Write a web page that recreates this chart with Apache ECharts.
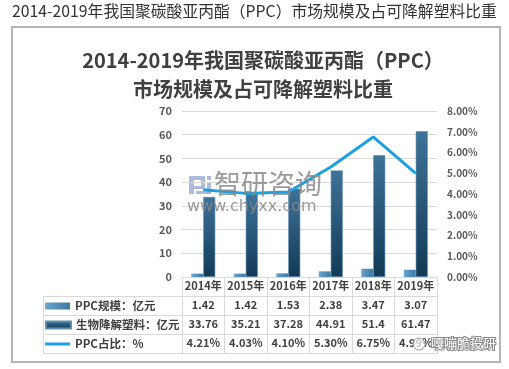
<!DOCTYPE html>
<html><head><meta charset="utf-8">
<script src="https://cdn.jsdelivr.net/npm/echarts@6/dist/echarts.min.js"></script>
<style>html,body{margin:0;padding:0;background:#fff}#c{width:509px;height:369px}</style>
</head><body><div id="c"></div>
<script>
var years = ['2014年','2015年','2016年','2017年','2018年','2019年'];
var ppcScale = [1.42, 1.42, 1.53, 2.38, 3.47, 3.07];
var bioScale = [33.76, 35.21, 37.28, 44.91, 51.4, 61.47];
var ppcShare = [4.21, 4.03, 4.10, 5.30, 6.75, 4.99];
var nameScale = 'PPC规模：亿元';
var nameBio = '生物降解塑料：亿元';
var nameShare = 'PPC占比：%';

var FONT = '"Noto Sans CJK SC", "Noto Sans", sans-serif';
var chart = echarts.init(document.getElementById('c'));
var tableLine = '#d9d9d9';
function rowAxis(offset, fmt) {
  return {
    type: 'category', data: years, position: 'bottom', offset: offset,
    axisLine: {show: false}, axisTick: {show: false}, splitLine: {show: false},
    axisLabel: {interval: 0, margin: 3.5, fontSize: 11, fontWeight: 'bold', color: '#404040', fontFamily: FONT, formatter: fmt}
  };
}
function legendAt(name, top, h) {
  return {data: [name], left: 45, top: top, icon: 'rect', itemWidth: 25, itemHeight: h, selectedMode: false, padding: 0,
    textStyle: {fontSize: 11.5, fontWeight: 'bold', color: '#404040', lineHeight: 14}};
}
var option = {
  animation: false,
  textStyle: {fontFamily: FONT},
  title: {
    text: '2014-2019年我国聚碳酸亚丙酯（PPC）\n市场规模及占可降解塑料比重',
    left: 258, top: 41, textAlign: 'center',
    textStyle: {fontSize: 20, fontWeight: 'bold', color: '#404040', lineHeight: 29, fontFamily: FONT}
  },
  legend: [
    legendAt(nameScale, 299, 7),
    legendAt(nameBio, 318, 7),
    legendAt(nameShare, 337, 3)
  ],
  grid: {left: 182, right: 72, top: 111, bottom: 92},
  xAxis: [
    {type: 'category', data: years,
     axisLine: {lineStyle: {color: tableLine}},
     axisTick: {show: true, length: 77, lineStyle: {color: tableLine}},
     axisLabel: {interval: 0, margin: 3.5, fontSize: 11, fontWeight: 'bold', color: '#404040'}},
    rowAxis(19, function (v, i) { return String(ppcScale[i]); }),
    rowAxis(38, function (v, i) { return String(bioScale[i]); }),
    rowAxis(57, function (v, i) { return ppcShare[i].toFixed(2) + '%'; })
  ],
  yAxis: [
    {type: 'value', min: 0, max: 70, interval: 10,
     axisLine: {show: false}, axisTick: {show: false},
     splitLine: {lineStyle: {color: '#d9d9d9'}},
     axisLabel: {margin: 10, fontSize: 11, fontWeight: 'bold', color: '#595959'}},
    {type: 'value', min: 0, max: 8, interval: 1,
     axisLine: {show: false}, axisTick: {show: false}, splitLine: {show: false},
     axisLabel: {margin: 10, fontSize: 10, fontWeight: 'bold', color: '#595959',
       formatter: function (v) { return v.toFixed(2) + '%'; }}}
  ],
  series: [
    {name: nameScale, type: 'bar', data: ppcScale, barWidth: 12, barGap: '0%',
     itemStyle: {color: new echarts.graphic.LinearGradient(0, 0, 1, 0, [
       {offset: 0, color: '#6fa9d0'}, {offset: 0.3, color: '#5b96c0'}, {offset: 1, color: '#3d7aa5'}])}},
    {name: nameBio, type: 'bar', data: bioScale, barWidth: 12, barGap: '0%',
     itemStyle: {color: new echarts.graphic.LinearGradient(0, 0, 0, 1, [
       {offset: 0, color: '#3f7399'}, {offset: 1, color: '#123a56'}]),
       borderColor: '#5f8fb3', borderWidth: 0.6}},
    {name: nameShare, type: 'line', yAxisIndex: 1, data: ppcShare, showSymbol: false, symbol: 'none',
     lineStyle: {color: '#1ba1e2', width: 3}, itemStyle: {color: '#1ba1e2'}, z: 5}
  ],
  graphic: [
    {type: 'text', left: 12, top: 3, style: {text: '2014-2019年我国聚碳酸亚丙酯（PPC）市场规模及占可降解塑料比重', fontSize: 15.8, fill: '#333', fontFamily: FONT}},
    {type: 'rect', shape: {x: 12, y: 27, width: 488, height: 335}, style: {fill: 'none', stroke: '#b4b4b4', lineWidth: 2}, silent: true},
    {type: 'line', shape: {x1: 43, y1: 296.5, x2: 437, y2: 296.5}, style: {stroke: tableLine, lineWidth: 1}},
    {type: 'line', shape: {x1: 43, y1: 315.5, x2: 437, y2: 315.5}, style: {stroke: tableLine, lineWidth: 1}},
    {type: 'line', shape: {x1: 43, y1: 334.5, x2: 437, y2: 334.5}, style: {stroke: tableLine, lineWidth: 1}},
    {type: 'line', shape: {x1: 43, y1: 353.5, x2: 437, y2: 353.5}, style: {stroke: tableLine, lineWidth: 1}},
    {type: 'line', shape: {x1: 43.5, y1: 296, x2: 43.5, y2: 354}, style: {stroke: tableLine, lineWidth: 1}},
    {type: 'group', z: 10, children: [
      {type: 'rect', shape: {x: 189, y: 176, width: 5, height: 18}, style: {fill: '#9fb0d6', opacity: 0.85}},
      {type: 'rect', shape: {x: 194, y: 176, width: 11, height: 4}, style: {fill: '#9fb0d6', opacity: 0.85}},
      {type: 'rect', shape: {x: 201, y: 180, width: 4, height: 6}, style: {fill: '#9fb0d6', opacity: 0.85}},
      {type: 'rect', shape: {x: 194, y: 186, width: 11, height: 3}, style: {fill: '#9fb0d6', opacity: 0.85}},
      {type: 'rect', shape: {x: 207, y: 176, width: 4, height: 4}, style: {fill: '#9fb0d6', opacity: 0.85}},
      {type: 'rect', shape: {x: 207, y: 182, width: 4, height: 12}, style: {fill: '#9fb0d6', opacity: 0.85}},
      {type: 'rect', shape: {x: 196, y: 191, width: 15, height: 3}, style: {fill: '#9fb0d6', opacity: 0.85}}
    ]},
    {type: 'text', z: 10, left: 214, top: 170, style: {text: '智研咨询', fontSize: 27, fill: '#8a8a8a', opacity: 0.85, fontFamily: FONT}},
    {type: 'text', z: 10, left: 187, top: 199, style: {text: 'www.chyxx.com', fontSize: 16, fill: '#8a8a8a', opacity: 0.85, fontFamily: '"DejaVu Sans", sans-serif'}},
    {type: 'text', z: 10, left: 430, top: 336, style: {text: '嘎嘣脆投研', fontSize: 13, fill: '#ffffff', stroke: '#8a8a8a', lineWidth: 2, fontFamily: FONT}},
    {type: 'circle', z: 10, shape: {cx: 419, cy: 344, r: 6}, style: {fill: 'rgba(255,255,255,0.7)', stroke: '#9a9a9a', lineWidth: 1}}
  ]
};
chart.setOption(option);
</script></body></html>
